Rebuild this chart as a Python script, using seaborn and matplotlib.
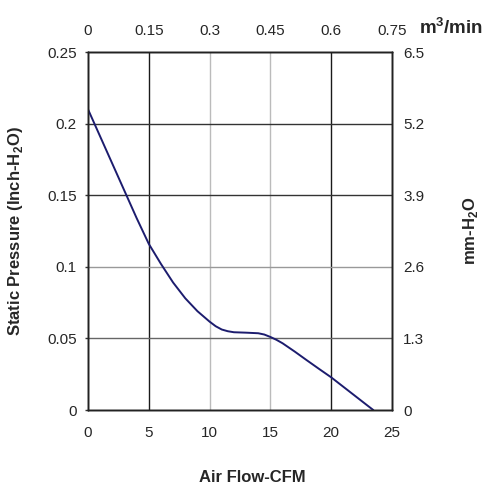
import matplotlib
matplotlib.use("Agg")
import matplotlib.pyplot as plt
import seaborn as sns
import pandas as pd
from matplotlib.ticker import FuncFormatter

sns.set_style("white")
plt.rcParams['font.family'] = ['Liberation Sans', 'DejaVu Sans']
plt.rcParams['mathtext.fontset'] = 'custom'
plt.rcParams['mathtext.rm'] = 'Liberation Sans'
plt.rcParams['mathtext.bf'] = 'Liberation Sans:bold'

# Data
airflow_cfm = [0, 1, 2, 3, 4, 5, 6, 7, 8, 9, 10, 10.5, 11, 11.5, 12, 13, 14, 14.5, 15, 15.5,
               16, 17, 18, 19, 20, 21, 22, 23, 23.46]
pressure_inch = [0.210, 0.191, 0.172, 0.153, 0.134, 0.116, 0.102, 0.089, 0.078, 0.069, 0.0617,
                 0.0585, 0.0562, 0.0550, 0.0543, 0.0540, 0.0536, 0.0527, 0.0510, 0.0490,
                 0.0466, 0.0408, 0.0347, 0.0287, 0.0228, 0.0162, 0.0096, 0.0030, 0.0]
x_ticks = [0, 5, 10, 15, 20, 25]
y_ticks = [0, 0.05, 0.1, 0.15, 0.2, 0.25]
top_ticks = [0, 0.15, 0.3, 0.45, 0.6, 0.75]
right_ticks = [0, 1.3, 2.6, 3.9, 5.2, 6.5]

df = pd.DataFrame({"cfm": airflow_cfm, "p": pressure_inch})

fig = plt.figure(figsize=(4.86, 4.95), dpi=100)
ax = fig.add_axes([88/486, 1-410/495, 304/486, 358/495])

# grid lines
vcolors = {5: '#1a1a1a', 10: '#bbbbbb', 15: '#bbbbbb', 20: '#1a1a1a'}
for v, c in vcolors.items():
    ax.axvline(v, color=c, lw=1.0, zorder=1)
hcolors = {0.05: '#666666', 0.1: '#999999', 0.15: '#333333', 0.2: '#333333'}
for h, c in hcolors.items():
    ax.axhline(h, color=c, lw=1.0, zorder=1)

sns.lineplot(data=df, x="cfm", y="p", ax=ax, color='#1c1c6e', lw=1.4, zorder=3)

ax.set_xlim(0, 25)
ax.set_ylim(0, 0.25)
ax.set_xticks(x_ticks)
ax.set_yticks(y_ticks)
fmt = FuncFormatter(lambda v, p: f"{v:g}")
ax.xaxis.set_major_formatter(fmt)
ax.yaxis.set_major_formatter(fmt)
ax.tick_params(axis='y', which='major', left=True, length=2.5, width=1, color='#333333', pad=5.5, labelsize=11)
ax.tick_params(axis='x', which='major', bottom=True, length=0, pad=11.5, labelsize=11)
for s in ax.spines.values():
    s.set_color('#222222')
    s.set_linewidth(1.0)
ax.set_xlabel("Air Flow-CFM", fontsize=12, fontweight='bold')
ax.xaxis.set_label_coords(0.541, -0.168)
ax.set_ylabel(r"Static Pressure (Inch-H$_\mathbf{2}$O)", fontsize=12, fontweight='bold')
ax.yaxis.set_label_coords(-0.207, 0.5)

axr = ax.twinx()
axr.set_ylim(0, 6.5)
axr.set_yticks(right_ticks)
axr.yaxis.set_major_formatter(fmt)
axr.tick_params(axis='y', length=0, pad=8, labelsize=11)
axr.set_ylabel(r"mm-H$_\mathbf{2}$O", fontsize=12, fontweight='bold')
axr.yaxis.set_label_coords(1.227, 0.5)

axt = ax.twiny()
axt.set_xlim(0, 0.75)
axt.set_xticks(top_ticks)
axt.xaxis.set_major_formatter(fmt)
axt.tick_params(axis='x', length=0, pad=10, labelsize=11)
for a in (axr, axt):
    for s in a.spines.values():
        s.set_color('#222222')
        s.set_linewidth(1.0)

fig.text(0.862, 1-28/495, r"m$^\mathbf{3}$/min", fontsize=13.5, fontweight='bold', ha='left', va='center')

fig.savefig("out.png", dpi=100, facecolor='white')
